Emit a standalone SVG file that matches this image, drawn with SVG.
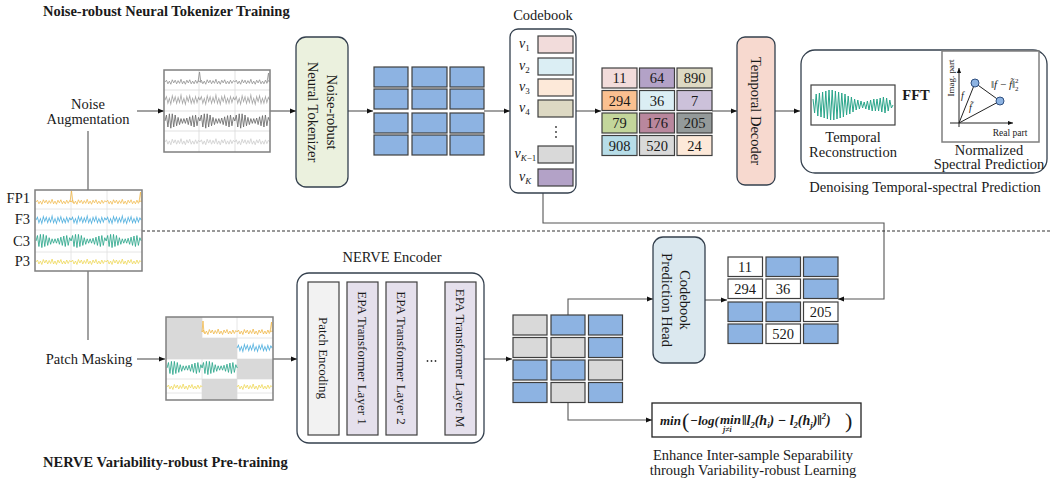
<svg xmlns="http://www.w3.org/2000/svg" xmlns:xlink="http://www.w3.org/1999/xlink" width="1050" height="483" viewBox="0 0 1050 483">
<style>
text{font-family:"Liberation Serif","Times New Roman",serif;fill:#1a1a1a}
.t{font-size:14.5px}
.tb{font-size:14.5px;font-weight:bold}
.c{text-anchor:middle}
.s13{font-size:13px}
.num{font-size:14.5px;text-anchor:middle}
.cell{stroke:#3f3f3f;stroke-width:1.2}
.blue{fill:#8db3e2}
.gray{fill:#d9d9d9}
.white{fill:#ffffff}
.rbox{stroke:#34404e;stroke-width:1.3}
.conn{fill:none;stroke:#555;stroke-width:1.1}
.wave{fill:none;stroke-width:0.8}
.fm{font-size:13px;font-weight:bold;font-style:italic}
.vl{font-size:14px;font-style:italic}
.sub{font-size:9px;font-style:normal}
</style>
<defs>
<marker id="ah" viewBox="0 0 6 6" refX="6" refY="3" markerWidth="6" markerHeight="6" markerUnits="userSpaceOnUse" orient="auto">
<path d="M0,0.5 L6,3 L0,5.5 z" fill="#111"/>
</marker>
<marker id="ahs" viewBox="0 0 6 6" refX="6" refY="3" markerWidth="5" markerHeight="5" markerUnits="userSpaceOnUse" orient="auto">
<path d="M0,0.5 L6,3 L0,5.5 z" fill="#111"/>
</marker>
<path id="wn" d="M0,0 L1.5,-2 3,2 4.5,-1 6,2.5 7.5,-2.5 9,1 10.5,-2 12,2 13.5,-1.5 15,1.5 16.5,-3 18,2 19.5,-1 21,2.5 22.5,-2 24,1 25.5,-2.5 27,2 28.5,-1 30,2 31.5,-2 33,1.5 34.5,-1.5 36,0"/>
<path id="wc" d="M0,0 L1.5,-5 3,5 4.5,-6 6,6 7.5,-6 9,5 10.5,-5 12,4 13.5,-3 15,3 16.5,-2 18,2 19.5,-2 21,2 22.5,-2.5 24,3 25.5,-3.5 27,4 28.5,-4.5 30,5 31.5,-5 33,4 34.5,-3 36,0"/>
<g id="rn"><use xlink:href="#wn"/><use xlink:href="#wn" x="36"/><use xlink:href="#wn" x="72"/></g>
<g id="rc"><use xlink:href="#wc"/><use xlink:href="#wc" x="36"/><use xlink:href="#wc" x="72"/></g>
</defs>

<rect width="1050" height="483" fill="#ffffff"/>

<!-- titles -->
<text class="tb" x="43" y="16">Noise-robust Neural Tokenizer Training</text>
<text class="tb" x="43" y="467">NERVE Variability-robust Pre-training</text>

<!-- connectors -->
<g id="connectors">
<line class="conn" x1="137" y1="111" x2="164" y2="111" marker-end="url(#ah)"/>
<line class="conn" x1="270" y1="111" x2="296" y2="111" marker-end="url(#ah)"/>
<line class="conn" x1="348" y1="111" x2="373" y2="111" marker-end="url(#ah)"/>
<line class="conn" x1="484" y1="111" x2="510" y2="111" marker-end="url(#ah)"/>
<line class="conn" x1="576" y1="111" x2="601" y2="111" marker-end="url(#ah)"/>
<line class="conn" x1="712" y1="111" x2="737" y2="111" marker-end="url(#ah)"/>
<line class="conn" x1="775" y1="111" x2="800" y2="111" marker-end="url(#ah)"/>
<line class="conn" x1="895" y1="105" x2="942" y2="105" marker-end="url(#ah)"/>
<polyline class="conn" points="543,193 543,223 884,223 884,299 838,299" marker-end="url(#ah)"/>
<line class="conn" x1="88" y1="131" x2="88" y2="190" stroke="#333"/>
<line class="conn" x1="88" y1="271" x2="88" y2="340" stroke="#333"/>
<line x1="142" y1="231" x2="1050" y2="231" stroke="#333" stroke-width="1.1" stroke-dasharray="3,2"/>
<line class="conn" x1="137" y1="359" x2="165" y2="359" marker-end="url(#ah)"/>
<line class="conn" x1="273" y1="359" x2="297" y2="359" marker-end="url(#ah)"/>
<line class="conn" x1="484" y1="359" x2="512" y2="359" marker-end="url(#ah)"/>
<polyline class="conn" points="568,315 568,299 653,299" marker-end="url(#ah)"/>
<line class="conn" x1="705" y1="300" x2="727" y2="300" marker-end="url(#ah)"/>
<polyline class="conn" points="568,403 568,420 652,420" marker-end="url(#ah)"/>
</g>

<!-- Noise augmentation label -->
<g id="noise-aug">
<text class="t c" x="88" y="109">Noise</text>
<text class="t c" x="88" y="124">Augmentation</text>
</g>

<!-- noisy signal box -->
<g id="noisy-signal">
<rect x="164" y="70" width="106" height="82" fill="#fff"/>
<g stroke="#d9d9d9" stroke-width="0.8">
<line x1="164" y1="90" x2="270" y2="90"/><line x1="164" y1="111" x2="270" y2="111"/><line x1="164" y1="131" x2="270" y2="131"/>
<line x1="199" y1="70" x2="199" y2="152"/><line x1="235" y1="70" x2="235" y2="152"/>
</g>
<use xlink:href="#rn" class="wave" stroke="#8a8a8a" transform="translate(165,82) scale(0.97,0.9)"/>
<path d="M198,82 L199.5,72 L201,83 M267,82 L268.5,73 L269.5,82" fill="none" stroke="#8a8a8a" stroke-width="0.8"/>
<use xlink:href="#rn" class="wave" stroke="#a8a8a8" transform="translate(165,100) scale(0.97,1.7)"/>
<use xlink:href="#rc" class="wave" stroke="#6c6c6c" stroke-width="1.2" transform="translate(165,121) scale(0.97,1.2)"/>
<use xlink:href="#rn" class="wave" stroke="#cfcfcf" transform="translate(165,142) scale(0.97,1.1)"/>
<rect x="164" y="70" width="106" height="82" fill="none" stroke="#7f7f7f" stroke-width="1.5"/>
</g>

<!-- tokenizer -->
<g id="tokenizer">
<rect class="rbox" x="296" y="37" width="52" height="150" rx="10" fill="#ebf1de"/>
<text class="t c" dominant-baseline="central" transform="translate(331.5,112) rotate(90)">Noise-robust</text>
<text class="t c" dominant-baseline="central" transform="translate(312.5,112) rotate(90)">Neural Tokenizer</text>
</g>

<!-- blue token grid -->
<g id="token-grid-top">
<rect class="cell blue" x="374" y="67" width="34" height="20"/><rect class="cell blue" x="412" y="67" width="35" height="20"/><rect class="cell blue" x="450" y="67" width="34" height="20"/>
<rect class="cell blue" x="374" y="89" width="34" height="20"/><rect class="cell blue" x="412" y="89" width="35" height="20"/><rect class="cell blue" x="450" y="89" width="34" height="20"/>
<rect class="cell blue" x="374" y="113" width="34" height="20"/><rect class="cell blue" x="412" y="113" width="35" height="20"/><rect class="cell blue" x="450" y="113" width="34" height="20"/>
<rect class="cell blue" x="374" y="135" width="34" height="20"/><rect class="cell blue" x="412" y="135" width="35" height="20"/><rect class="cell blue" x="450" y="135" width="34" height="20"/>
</g>

<!-- codebook -->
<g id="codebook">
<text class="t c" x="543" y="20">Codebook</text>
<rect class="rbox" x="510" y="29" width="66" height="164" rx="8" fill="#fff"/>
<rect class="cell" x="538" y="36" width="35" height="17" fill="#f2dcdb"/>
<rect class="cell" x="538" y="58" width="35" height="17" fill="#dbeef4"/>
<rect class="cell" x="538" y="79" width="35" height="17" fill="#fde9d9"/>
<rect class="cell" x="538" y="100" width="35" height="17" fill="#ddd9c3"/>
<rect class="cell" x="538" y="146" width="35" height="17" fill="#d9d9d9"/>
<rect class="cell" x="538" y="169" width="35" height="17" fill="#b3a2c7"/>
<circle cx="556" cy="127" r="0.9" fill="#333"/><circle cx="556" cy="132" r="0.9" fill="#333"/><circle cx="556" cy="137" r="0.9" fill="#333"/>
<text class="vl" x="519" y="48">v<tspan class="sub" dy="3">1</tspan></text>
<text class="vl" x="519" y="70">v<tspan class="sub" dy="3">2</tspan></text>
<text class="vl" x="519" y="91">v<tspan class="sub" dy="3">3</tspan></text>
<text class="vl" x="519" y="112">v<tspan class="sub" dy="3">4</tspan></text>
<text class="vl" x="514.5" y="158">v<tspan class="sub" dy="3" style="font-style:italic">K</tspan><tspan class="sub">−1</tspan></text>
<text class="vl" x="519" y="181">v<tspan class="sub" dy="3" style="font-style:italic">K</tspan></text>
</g>

<!-- number grid -->
<g id="index-grid">
<rect class="cell" x="602" y="68" width="35" height="20" fill="#f2dcdb"/><rect class="cell" x="639.5" y="68" width="35" height="20" fill="#b3a2c7"/><rect class="cell" x="677" y="68" width="35" height="20" fill="#ddd9c3"/>
<rect class="cell" x="602" y="90.5" width="35" height="20" fill="#fac090"/><rect class="cell" x="639.5" y="90.5" width="35" height="20" fill="#dbeef4"/><rect class="cell" x="677" y="90.5" width="35" height="20" fill="#ccc1da"/>
<rect class="cell" x="602" y="113" width="35" height="20" fill="#c3d69b"/><rect class="cell" x="639.5" y="113" width="35" height="20" fill="#b9879d"/><rect class="cell" x="677" y="113" width="35" height="20" fill="#949a9a"/>
<rect class="cell" x="602" y="135.5" width="35" height="20" fill="#b7dde8"/><rect class="cell" x="639.5" y="135.5" width="35" height="20" fill="#d9d9d9"/><rect class="cell" x="677" y="135.5" width="35" height="20" fill="#fde9d9"/>
<text class="num" x="619.5" y="83">11</text><text class="num" x="657" y="83">64</text><text class="num" x="694.5" y="83">890</text>
<text class="num" x="619.5" y="105.5">294</text><text class="num" x="657" y="105.5">36</text><text class="num" x="694.5" y="105.5">7</text>
<text class="num" x="619.5" y="128">79</text><text class="num" x="657" y="128">176</text><text class="num" x="694.5" y="128">205</text>
<text class="num" x="619.5" y="150.5">908</text><text class="num" x="657" y="150.5">520</text><text class="num" x="694.5" y="150.5">24</text>
</g>

<!-- temporal decoder -->
<g id="temporal-decoder">
<rect class="rbox" x="737" y="37" width="38" height="148" rx="8" fill="#f7d9cf"/>
<text class="t c" dominant-baseline="central" transform="translate(756,111) rotate(90)">Temporal Decoder</text>
</g>

<!-- denoising temporal-spectral prediction -->
<g id="denoising">
<rect class="rbox" x="801" y="50" width="246" height="123" rx="14" fill="#fff"/>
<rect x="811" y="85" width="84" height="40" fill="#fff" stroke="#404040" stroke-width="1.2"/>
<polyline fill="none" stroke="#2aa58a" stroke-width="1" points="813,99 814.6,113 816.2,94 817.8,116 819.4,93 821,117 822.6,92 824.2,118 825.8,91 827.4,119 829,90 830.6,120 832.2,90 833.8,120 835.4,91 837,119 838.6,92 840.2,118 841.8,93 843.4,117 845,94 846.6,115 848.2,96 849.8,114 851.4,97 853,112 854.6,99 856.2,110 857.8,100 859.4,109 861,101 862.6,108 864.2,102 865.8,109 867.4,101 869,110 870.6,100 872.2,111 873.8,99 875.4,111 877,99 878.6,111 880.2,98 881.8,112 883.4,97 885,113 886.6,98 888.2,111 889.8,100 891.4,108 893,105"/>
<text class="t c" x="853" y="142">Temporal</text>
<text class="t c" x="853" y="157">Reconstruction</text>
<text class="tb c" x="916" y="100">FFT</text>
<rect x="942" y="51" width="97" height="91" fill="#fff" stroke="#7f7f7f" stroke-width="1.5"/>
<line x1="959" y1="127" x2="959" y2="68" stroke="#222" stroke-width="1" marker-end="url(#ahs)"/>
<line x1="950" y1="123" x2="1013" y2="123" stroke="#222" stroke-width="1" marker-end="url(#ahs)"/>
<polyline fill="none" stroke="#222" stroke-width="1" points="959,123 975,83 1000,101 959,123"/>
<circle cx="975" cy="83" r="4" fill="#8db3e2" stroke="#2f4f7f" stroke-width="1"/>
<circle cx="1000" cy="101" r="4" fill="#8db3e2" stroke="#2f4f7f" stroke-width="1"/>
<text font-size="9" text-anchor="middle" dominant-baseline="central" transform="translate(951,78) rotate(-90)">Imag. part</text>
<text font-size="9.5" text-anchor="middle" x="1010" y="136">Real part</text>
<text font-size="10" font-style="italic" x="961" y="99">f</text>
<text font-size="10" font-style="italic" x="969" y="111">f̃</text>
<text font-size="11" x="991" y="88">‖<tspan font-style="italic">f</tspan> − <tspan font-style="italic">f̃</tspan>‖<tspan font-size="7" dy="-5">2</tspan><tspan font-size="7" dx="-3.5" dy="8">2</tspan></text>
<text class="t c" x="989" y="155">Normalized</text>
<text class="t c" x="989" y="169">Spectral Prediction</text>
<text class="t c" x="925" y="192">Denoising Temporal-spectral Prediction</text>
</g>

<!-- raw EEG -->
<g id="eeg">
<text class="t" x="30" y="203" text-anchor="end">FP1</text>
<text class="t" x="30" y="224" text-anchor="end">F3</text>
<text class="t" x="30" y="246" text-anchor="end">C3</text>
<text class="t" x="30" y="266" text-anchor="end">P3</text>
<rect x="35" y="190" width="107" height="81" fill="#fff"/>
<g stroke="#e0e0e0" stroke-width="0.8">
<line x1="35" y1="209" x2="142" y2="209"/><line x1="35" y1="230" x2="142" y2="230"/><line x1="35" y1="252" x2="142" y2="252"/>
<line x1="71" y1="190" x2="71" y2="271"/><line x1="107" y1="190" x2="107" y2="271"/>
</g>
<use xlink:href="#rn" class="wave" stroke="#f0b84a" transform="translate(36,202) scale(0.975,0.9)"/>
<path d="M70,202 L71.5,191 L73,203 M139,202 L140.5,192 L141.5,202" fill="none" stroke="#f0b84a" stroke-width="0.8"/>
<use xlink:href="#rn" class="wave" stroke="#5ab4e0" transform="translate(36,220) scale(0.975,1.4)"/>
<use xlink:href="#rc" class="wave" stroke="#2aa58a" stroke-width="1" transform="translate(36,241) scale(0.975,1.1)"/>
<use xlink:href="#rn" class="wave" stroke="#eed85a" transform="translate(36,262) scale(0.975,1)"/>
<rect x="35" y="190" width="107" height="81" fill="none" stroke="#7f7f7f" stroke-width="1.5"/>
</g>

<!-- patch masking -->
<g id="patch-masking">
<text class="t c" x="89" y="364">Patch Masking</text>
<rect x="166" y="317" width="107" height="83" fill="#fff"/>
<g stroke="#e0e0e0" stroke-width="0.8">
<line x1="166" y1="338" x2="273" y2="338"/><line x1="166" y1="359" x2="273" y2="359"/><line x1="166" y1="379" x2="273" y2="379"/><line x1="166" y1="393" x2="273" y2="393"/>
<line x1="202" y1="317" x2="202" y2="400"/><line x1="237" y1="317" x2="237" y2="400"/>
</g>
<rect x="166" y="317" width="36" height="21" fill="#d9d9d9"/>
<rect x="166" y="338" width="36" height="21" fill="#d9d9d9"/>
<rect x="202" y="338" width="35" height="21" fill="#d9d9d9"/>
<rect x="237" y="359" width="36" height="20" fill="#d9d9d9"/>
<rect x="202" y="379" width="35" height="21" fill="#d9d9d9"/>
<use xlink:href="#wn" class="wave" stroke="#f0b84a" transform="translate(202,332) scale(0.98,1)"/>
<use xlink:href="#wn" class="wave" stroke="#f0b84a" transform="translate(237,332) scale(0.98,1)"/>
<path d="M202,332 L203,321 L204,333 M270,332 L271.5,322 L272.5,332" fill="none" stroke="#f0b84a" stroke-width="0.8"/>
<use xlink:href="#wn" class="wave" stroke="#5ab4e0" transform="translate(237,348) scale(0.98,1.4)"/>
<use xlink:href="#wc" class="wave" stroke="#2aa58a" stroke-width="1" transform="translate(167,368) scale(0.98,1.1)"/>
<use xlink:href="#wc" class="wave" stroke="#2aa58a" stroke-width="1" transform="translate(202,368) scale(0.98,1.1)"/>
<use xlink:href="#wn" class="wave" stroke="#eed85a" transform="translate(167,387) scale(0.98,1)"/>
<use xlink:href="#wn" class="wave" stroke="#eed85a" transform="translate(237,387) scale(0.98,1)"/>
<rect x="166" y="317" width="107" height="83" fill="none" stroke="#7f7f7f" stroke-width="1.5"/>
</g>

<!-- NERVE encoder -->
<g id="nerve-encoder">
<text class="t c" x="392" y="262">NERVE Encoder</text>
<rect class="rbox" x="297" y="273" width="187" height="170" rx="12" fill="#fff"/>
<rect x="308" y="282" width="31" height="153" fill="#f2f2f2" stroke="#404040" stroke-width="1.2"/>
<rect x="347" y="282" width="31" height="153" fill="#e5e0ec" stroke="#404040" stroke-width="1.2"/>
<rect x="386" y="282" width="31" height="153" fill="#e5e0ec" stroke="#404040" stroke-width="1.2"/>
<rect x="445" y="282" width="31" height="153" fill="#e5e0ec" stroke="#404040" stroke-width="1.2"/>
<text class="s13 c" dominant-baseline="central" transform="translate(323.5,358) rotate(90)">Patch Encoding</text>
<text class="s13 c" dominant-baseline="central" transform="translate(362.5,358) rotate(90)">EPA Transformer Layer 1</text>
<text class="s13 c" dominant-baseline="central" transform="translate(401.5,358) rotate(90)">EPA Transformer Layer 2</text>
<text class="s13 c" dominant-baseline="central" transform="translate(460.5,358) rotate(90)">EPA Transformer Layer M</text>
<circle cx="427.5" cy="361" r="0.9" fill="#333"/><circle cx="431.5" cy="361" r="0.9" fill="#333"/><circle cx="435.5" cy="361" r="0.9" fill="#333"/>
</g>

<!-- masked token grid -->
<g id="masked-tokens">
<rect class="cell gray" x="513" y="315" width="34" height="20"/><rect class="cell blue" x="551" y="315" width="34" height="20"/><rect class="cell blue" x="588.5" y="315" width="34" height="20"/>
<rect class="cell gray" x="513" y="337.5" width="34" height="20"/><rect class="cell gray" x="551" y="337.5" width="34" height="20"/><rect class="cell blue" x="588.5" y="337.5" width="34" height="20"/>
<rect class="cell blue" x="513" y="360" width="34" height="20"/><rect class="cell blue" x="551" y="360" width="34" height="20"/><rect class="cell gray" x="588.5" y="360" width="34" height="20"/>
<rect class="cell blue" x="513" y="382.5" width="34" height="20"/><rect class="cell gray" x="551" y="382.5" width="34" height="20"/><rect class="cell blue" x="588.5" y="382.5" width="34" height="20"/>
</g>

<!-- codebook prediction head -->
<g id="prediction-head">
<rect class="rbox" x="653" y="237" width="52" height="126" rx="10" fill="#dbe8ef"/>
<text class="t c" dominant-baseline="central" transform="translate(685,300) rotate(90)">Codebook</text>
<text class="t c" dominant-baseline="central" transform="translate(667,300) rotate(90)">Prediction Head</text>
</g>

<!-- predicted grid -->
<g id="pred-grid">
<rect class="cell white" x="728" y="257" width="34.5" height="19.5"/><rect class="cell blue" x="766" y="257" width="34.5" height="19.5"/><rect class="cell blue" x="803.5" y="257" width="34.5" height="19.5"/>
<rect class="cell white" x="728" y="279" width="34.5" height="19.5"/><rect class="cell white" x="766" y="279" width="34.5" height="19.5"/><rect class="cell blue" x="803.5" y="279" width="34.5" height="19.5"/>
<rect class="cell blue" x="728" y="302" width="34.5" height="19.5"/><rect class="cell blue" x="766" y="302" width="34.5" height="19.5"/><rect class="cell white" x="803.5" y="302" width="34.5" height="19.5"/>
<rect class="cell blue" x="728" y="324" width="34.5" height="19.5"/><rect class="cell white" x="766" y="324" width="34.5" height="19.5"/><rect class="cell blue" x="803.5" y="324" width="34.5" height="19.5"/>
<text class="num" x="745" y="272">11</text>
<text class="num" x="745" y="294">294</text><text class="num" x="783" y="294">36</text>
<text class="num" x="820.5" y="317">205</text>
<text class="num" x="783" y="339">520</text>
</g>

<!-- separability loss -->
<g id="separability">
<rect x="652" y="403" width="209" height="34" fill="#fff" stroke="#222" stroke-width="1.3"/>
<text class="fm" x="660" y="425">min</text>
<text style="font-size:22px" x="682" y="428">(</text>
<text class="fm" x="690" y="425">−log(</text>
<text class="fm" x="720" y="424">min</text>
<text class="fm" style="font-size:8px" x="723" y="432">j≠i</text>
<text class="fm" style="font-size:14px" x="742" y="425"><tspan style="font-style:normal">‖</tspan>l<tspan style="font-size:8.5px" dy="3">2</tspan><tspan dy="-3">(h</tspan><tspan style="font-size:8.5px" dy="3">i</tspan><tspan dy="-3">) − l</tspan><tspan style="font-size:8.5px" dy="3">2</tspan><tspan dy="-3">(h</tspan><tspan style="font-size:8.5px" dy="3">j</tspan><tspan dy="-3">)</tspan><tspan style="font-style:normal">‖</tspan><tspan style="font-size:8.5px" dy="-6">2</tspan><tspan dy="6">)</tspan></text>
<text style="font-size:22px" x="845" y="428">)</text>
<text class="t c" x="753" y="460">Enhance Inter-sample Separability</text>
<text class="t c" x="753" y="475">through Variability-robust Learning</text>
</g>
</svg>
